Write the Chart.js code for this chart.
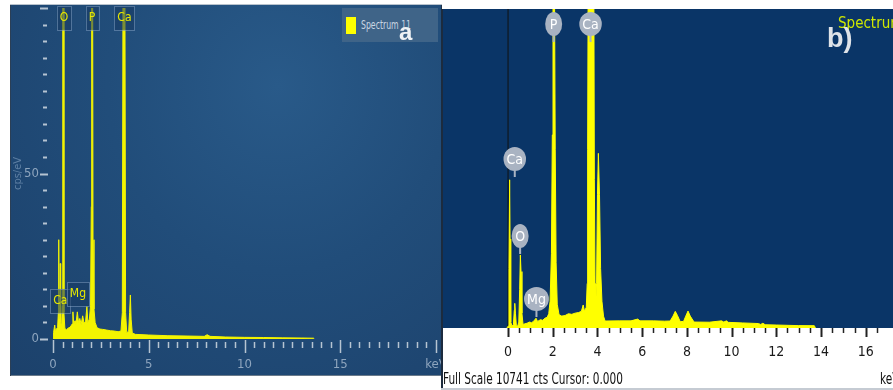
<!DOCTYPE html>
<html>
<head>
<meta charset="utf-8">
<script src="https://cdn.jsdelivr.net/npm/chart.js@4.4.0/dist/chart.umd.min.js"></script>
<style>
  html, body { margin: 0; padding: 0; background: #fff; width: 893px; height: 390px; overflow: hidden; }
  .narrow { font-family: 'Liberation Sans Narrow', 'DejaVu Sans Condensed', sans-serif; }
  #panelA {
    position: absolute; left: 10px; top: 4px; width: 432px; height: 372px;
    background: radial-gradient(ellipse at 62% 22%, #295a89 0%, #214d7a 45%, #1c416b 100%);
    box-shadow: inset 0 1px 0 #b9c3cd, inset 1px 0 0 #2b3f56, inset -1px 0 0 #22344a, inset 0 -1px 0 #6a7a8a;
  }
  #panelB {
    position: absolute; left: 441px; top: 9px; width: 452px; height: 381px; background: #fff;
    box-shadow: inset 0 -2px 0 #c5cbd3;
  }
  #edgeB { position: absolute; left: 0; top: 0; width: 2px; height: 379px; background: #1c2b3e; }
  canvas { position: absolute; left: 0; top: 0; }
  #legendA { position: absolute; left: 332px; top: 4px; width: 96px; height: 34px; background: #3f6488; }
  #legendA .swatch { position: absolute; left: 4px; top: 9px; width: 10px; height: 17px; background: #ffff00; }
  #legendA .txt { position: absolute; left: 19px; top: 10px; font-size: 12px; color: #c9d6e3;
    transform: scaleX(0.72); transform-origin: left center; white-space: nowrap; }
  #tagA { position: absolute; left: 389px; top: 14px; font: bold 24px 'Liberation Sans', sans-serif; color: #eef1f4; }
  #specB { position: absolute; left: 397px; top: 5px; font-size: 15px; color: #cfe800; white-space: nowrap; }
  #tagB { position: absolute; left: 386px; top: 14px; font: bold 27px 'Liberation Sans', sans-serif; color: #dfe3e8; }
  #fullScale { position: absolute; left: 2px; top: 361px; font-size: 15px; color: #111; white-space: nowrap;
    transform: scaleX(0.78); transform-origin: left center; }
  #kevB { position: absolute; left: 439px; top: 361px; font-size: 15px; color: #111; white-space: nowrap;
    transform: scaleX(0.78); transform-origin: left center; }
</style>
</head>
<body>
<div id="panelA">
  <canvas id="chartA" width="432" height="372"></canvas>
  <div id="legendA" class="narrow"><div class="swatch"></div><div class="txt">Spectrum 11</div></div>
  <div id="tagA">a</div>
</div>
<div id="panelB">
  <canvas id="chartB" width="452" height="381"></canvas>
  <div id="edgeB"></div>
  <div id="specB" class="narrow">Spectrum 5</div>
  <div id="tagB">b)</div>
  <div id="fullScale" class="narrow">Full Scale 10741 cts Cursor: 0.000</div>
  <div id="kevB" class="narrow">keV</div>
</div>
<script>
// EDS spectra of two samples. (a) in cps/eV, (b) in counts.
const NARROW = "'Liberation Sans Narrow', 'DejaVu Sans Condensed', sans-serif";

// ===== Panel a: Spectrum 11 =====
const keVA = [
  0.00, 0.01, 0.05, 0.09, 0.12, 0.18, 0.24, 0.28, 0.30, 0.32, 0.35, 0.38, 0.40, 0.45,
  0.49, 0.51, 0.54, 0.57, 0.62, 0.70, 0.80, 0.90, 1.00, 1.04, 1.08, 1.15, 1.20, 1.27,
  1.33, 1.40, 1.47, 1.55, 1.62, 1.70, 1.77, 1.82, 1.90, 1.96, 2.00, 2.02, 2.06, 2.09,
  2.14, 2.20, 2.30, 2.45, 2.60, 2.80, 3.00, 3.20, 3.40, 3.55, 3.62, 3.67, 3.74, 3.79,
  3.85, 3.95, 4.00, 4.04, 4.08, 4.14, 4.30, 5.0, 6.0, 7.0, 7.9, 8.05, 8.2, 9.0,
  10.0, 11.0, 12.0, 13.0, 13.6, 13.65
];
const cpsA = [
  0, 1.5, 2.0, 4.2, 2.6, 3.0, 3.5, 8, 30, 6, 5, 22.8, 5, 4,
  10, 150, 150, 8, 3.2, 2.8, 3.3, 3.6, 4.5, 8.2, 4.6, 5.5, 4.4, 8.2,
  5.0, 6.2, 4.4, 7.0, 4.8, 5.2, 9.8, 5.0, 6.0, 10, 40, 150, 150, 30,
  9, 5, 3.4, 3.0, 2.9, 2.7, 2.5, 2.4, 2.2, 2.4, 8, 150, 150, 8,
  2.0, 2.2, 8, 13.3, 6, 1.8, 1.4, 1.2, 1.0, 0.9, 0.8, 1.3, 0.8, 0.6,
  0.5, 0.45, 0.35, 0.3, 0.25, 0
];
const tagNamesA = ['O', 'P', 'Ca', 'Ca', 'Mg'];
const tagKeVA = [0.58, 2.04, 3.73, 0.38, 1.30];
const tagLevelA = [97, 97, 97, 11.5, 13.6];

// ===== Panel b: Spectrum 5 =====
const keVB = [
  -0.05, 0.00, 0.04, 0.07, 0.09, 0.12, 0.18, 0.24, 0.28, 0.30, 0.33, 0.37, 0.43, 0.48,
  0.52, 0.55, 0.58, 0.62, 0.67, 0.75, 0.85, 0.95, 1.05, 1.15, 1.25, 1.32, 1.45, 1.55,
  1.65, 1.75, 1.82, 1.88, 1.94, 1.98, 2.01, 2.08, 2.11, 2.15, 2.20, 2.28, 2.40, 2.55,
  2.70, 2.85, 3.00, 3.15, 3.28, 3.36, 3.42, 3.50, 3.54, 3.56, 3.58, 3.84, 3.86, 3.89,
  3.92, 3.96, 4.00, 4.04, 4.09, 4.14, 4.20, 4.27, 4.34, 5.0, 5.5, 5.8, 5.9, 6.5,
  7.0, 7.25, 7.38, 7.48, 7.58, 7.70, 7.85, 7.95, 8.05, 8.15, 8.32, 9.0, 9.55, 9.65,
  9.77, 9.85, 10.5, 11.2, 11.3, 11.4, 11.5, 12.0, 13.0, 13.7, 13.75
];
const ctsB = [
  0, 60, 2000, 4990, 3000, 200, 60, 120, 600, 830, 500, 90, 60, 200,
  1300, 2460, 1900, 500, 120, 140, 160, 200, 180, 230, 330, 220, 280, 260,
  330, 360, 480, 900, 2500, 6500, 11000, 11000, 6000, 2200, 800, 450, 400, 420,
  480, 460, 500, 520, 560, 775, 560, 700, 1500, 6000, 11000, 11000, 5000, 1500,
  800, 1500, 4500, 5880, 4500, 2000, 900, 400, 235, 240, 240, 300, 240, 240,
  230, 235, 400, 560, 420, 215, 220, 400, 570, 400, 200, 195, 240, 200,
  240, 190, 170, 150, 120, 160, 110, 100, 80, 78, 0
];
const fullScaleB = 10741;
const tagNamesB = ['P', 'Ca', 'Ca', 'O', 'Mg'];
const tagKeVB = [2.04, 3.69, 0.30, 0.54, 1.27];
const tagLevelB = [10236, 10236, 5690, 3098, 976];

// Short/long tick marks drawn at the scale's own ticks.
const tickMarks = {
  id: 'tickMarks',
  afterDraw(chart, args, o) {
    const ctx = chart.ctx, area = chart.chartArea;
    ctx.save();
    ctx.strokeStyle = o.color;
    ['x', 'y'].forEach(id => {
      const t = o[id];
      if (!t) return;
      const scale = chart.scales[id];
      scale.ticks.forEach(tick => {
        const v = tick.value;
        if (v < t.from) return;
        const onGrid = r => Math.abs(v / r - Math.round(v / r)) < 1e-6;
        if (!onGrid(t.minor)) return;
        const major = onGrid(t.major);
        const span = major ? t.majorSpan : t.minorSpan;
        const p = Math.round(scale.getPixelForValue(v)) + 0.5;
        ctx.lineWidth = major ? t.majorWidth : t.minorWidth;
        ctx.beginPath();
        if (id === 'x') { ctx.moveTo(p, area.bottom + span[0]); ctx.lineTo(p, area.bottom + span[1]); }
        else { ctx.moveTo(area.left + span[0], p); ctx.lineTo(area.left + span[1], p); }
        ctx.stroke();
      });
    });
    ctx.restore();
  }
};

// Element tags: boxes (a) or grey bubbles (b).
const elementTags = {
  id: 'elementTags',
  afterDatasetsDraw(chart, args, o) {
    const ctx = chart.ctx, xs = chart.scales.x, ys = chart.scales.y;
    ctx.save();
    ctx.font = o.font;
    ctx.textAlign = 'center';
    ctx.textBaseline = 'middle';
    o.names.forEach((name, i) => {
      const cx = xs.getPixelForValue(o.kev[i]);
      const cy = ys.getPixelForValue(o.level[i]);
      const w = ctx.measureText(name).width;
      if (o.style === 'box') {
        const bw = w + 6, bh = 24;
        ctx.fillStyle = 'rgba(24,58,98,0.55)';
        ctx.fillRect(cx - bw / 2, cy - bh / 2, bw, bh);
        ctx.strokeStyle = 'rgba(125,155,190,0.55)';
        ctx.lineWidth = 1;
        ctx.strokeRect(Math.round(cx - bw / 2) + 0.5, Math.round(cy - bh / 2) + 0.5, Math.round(bw), bh);
        ctx.fillStyle = '#e8e800';
        ctx.fillText(name, cx, cy);
      } else {
        const rx = Math.max(8.5, w / 2 + 3), ry = 12;
        ctx.fillStyle = '#a9b3c2';
        ctx.fillRect(cx - 1, cy + ry - 2, 2, 8);
        ctx.beginPath();
        ctx.ellipse(cx, cy, rx, ry, 0, 0, Math.PI * 2);
        ctx.fill();
        ctx.fillStyle = '#ffffff';
        ctx.fillText(name, cx, cy + 1);
      }
    });
    ctx.restore();
  }
};

const plotBg = {
  id: 'plotBg',
  beforeDraw(chart, args, o) {
    if (!o.color) return;
    const a = chart.chartArea;
    chart.ctx.save();
    chart.ctx.fillStyle = o.color;
    chart.ctx.fillRect(a.left, a.top, a.right - a.left, a.bottom - a.top);
    chart.ctx.restore();
  }
};

Chart.defaults.font.family = NARROW;
Chart.defaults.animation = false;

new Chart(document.getElementById('chartA'), {
  type: 'line',
  data: {
    datasets: [{
      data: keVA.map((e, i) => ({ x: e, y: cpsA[i] })),
      borderColor: '#f4f400',
      backgroundColor: '#f4f400',
      borderWidth: 1,
      pointRadius: 0,
      fill: 'origin',
      tension: 0
    }]
  },
  options: {
    responsive: false,
    layout: { padding: { top: 4, right: 6, left: 0, bottom: 0 } },
    plugins: {
      legend: { display: false },
      tooltip: { enabled: false },
      tickMarks: {
        color: '#b6c4d2',
        x: { minor: 0.5, major: 5, from: 0, minorSpan: [3, 9], majorSpan: [1, 14], minorWidth: 1.5, majorWidth: 1.5 },
        y: { minor: 5, major: 50, from: 0, minorSpan: [-10, -6], majorSpan: [-13, -5], minorWidth: 2, majorWidth: 2 }
      },
      elementTags: { style: 'box', font: '12px ' + NARROW, names: tagNamesA, kev: tagKeVA, level: tagLevelA }
    },
    scales: {
      x: {
        type: 'linear', min: 0, max: 20,
        border: { display: false },
        grid: { display: false, drawTicks: false },
        ticks: {
          stepSize: 0.5, autoSkip: false, maxRotation: 0, padding: 18,
          color: '#8ea5be', font: { size: 13 },
          callback: v => v % 5 === 0 ? (v === 20 ? 'keV' : String(v)) : ''
        },
        afterFit: s => { s.height = 37; s.paddingLeft = 0; s.paddingRight = 0; }
      },
      y: {
        min: 0, max: 100,
        border: { display: false },
        grid: { display: false, drawTicks: false },
        ticks: {
          stepSize: 5, autoSkip: false, padding: 14,
          color: '#8ea5be', font: { size: 13 },
          callback: v => (v === 0 || v === 50) ? String(v) : ''
        },
        title: { display: true, text: 'cps/eV', color: '#5f80a4', font: { size: 11 }, padding: { top: 2, bottom: 0 } },
        afterFit: s => { s.width = 43; s.paddingTop = 0; s.paddingBottom = 0; }
      }
    }
  },
  plugins: [tickMarks, elementTags]
});

new Chart(document.getElementById('chartB'), {
  type: 'line',
  data: {
    datasets: [
      {
        data: keVB.map((e, i) => ({ x: e, y: ctsB[i] })),
        borderColor: '#ffff00',
        backgroundColor: '#ffff00',
        borderWidth: 1,
        pointRadius: 0,
        fill: 'origin',
        tension: 0
      },
      {
        // zero-energy marker line
        data: [{ x: 0, y: 0 }, { x: 0, y: fullScaleB }],
        borderColor: '#111111',
        borderWidth: 1,
        pointRadius: 0,
        fill: false
      }
    ]
  },
  options: {
    responsive: false,
    layout: { padding: 0 },
    plugins: {
      legend: { display: false },
      tooltip: { enabled: false },
      plotBg: { color: '#0a3567' },
      tickMarks: {
        color: '#222222',
        x: { minor: 0.5, major: 2, from: 0, minorSpan: [0, 5], majorSpan: [0, 9], minorWidth: 1.5, majorWidth: 2 }
      },
      elementTags: { style: 'bubble', font: '14px ' + NARROW, names: tagNamesB, kev: tagKeVB, level: tagLevelB }
    },
    scales: {
      x: {
        type: 'linear', min: -3, max: 17.22,
        border: { display: false },
        grid: { display: false, drawTicks: false },
        ticks: {
          stepSize: 0.5, autoSkip: false, maxRotation: 0, padding: 16,
          color: '#1a1a1a', font: { size: 14 },
          callback: v => (v >= 0 && v % 2 === 0) ? String(v) : ''
        },
        afterFit: s => { s.height = 62; s.paddingLeft = 0; s.paddingRight = 0; }
      },
      y: {
        display: false, min: 0, max: fullScaleB
      }
    }
  },
  plugins: [plotBg, tickMarks, elementTags]
});
</script>
</body>
</html>
